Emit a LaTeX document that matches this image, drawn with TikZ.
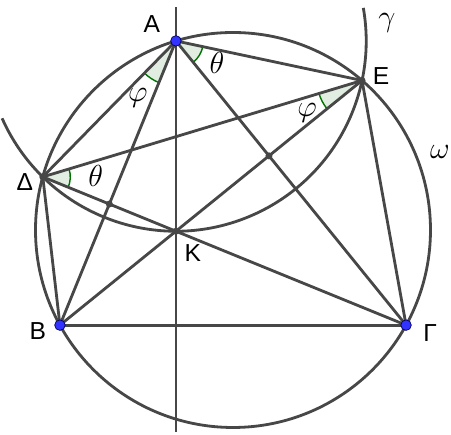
\documentclass[tikz,border=0pt]{standalone}
\usepackage{fontspec}
\setsansfont{Liberation Sans}
\usetikzlibrary{calc,angles}

\begin{document}
\begin{tikzpicture}[
  line/.style={line width=1.6pt, draw=black!72},
  bluept/.style={circle, fill=blue!80!white, draw=blue!35!black, line width=0.4pt, inner sep=0pt, minimum size=6pt},
  greypt/.style={circle, fill=black!72, inner sep=0pt, minimum size=4pt},
  anglemark/.style={draw=green!45!black, fill=green!40!black!12, line width=0.8pt},
  lbl/.style={font=\sffamily\fontsize{14}{16}\selectfont},
  glbl/.style={font=\fontsize{16}{18}\selectfont}
]
\useasboundingbox (-4.66,-4.10) rectangle (4.36,4.60);

% points on omega
\def\romega{3.95}
\coordinate (O) at (0,0);
\coordinate (A) at (106.8:\romega);
\coordinate (B) at (208.8:\romega);
\coordinate (G) at (331.2:\romega);
\coordinate (D) at (164.4:\romega);
\coordinate (E) at (49.2:\romega);
% orthocentre
\coordinate (K) at ($(A)+(B)+(G)$);
\coordinate (P) at (intersection of A--B and D--G);
\coordinate (Q) at (intersection of A--G and B--E);
% ends of the vertical line
\coordinate (vtop) at ($(A)+(0,0.68)$);
\coordinate (vbot) at (A |- 0,-4.04);

% angle marks
\pic[anglemark, angle radius=0.9cm] {angle=D--A--B};
\pic[anglemark, angle radius=0.55cm] {angle=G--A--E};
\pic[anglemark, angle radius=0.9cm] {angle=D--E--B};
\pic[anglemark, angle radius=0.55cm] {angle=G--D--E};

% circles
\draw[line] (O) circle (\romega);
\draw[line] let \p1=($(K)-(A)$), \n1={veclen(\x1,\y1)} in
  ($(A)+(204:\n1)$) arc[start angle=204, end angle=370, radius=\n1];

% segments
\draw[line] (vtop) -- (vbot);
\draw[line] (A) -- (B);
\draw[line] (A) -- (G);
\draw[line] (A) -- (D);
\draw[line] (A) -- (E);
\draw[line] (B) -- (G);
\draw[line] (D) -- (E);
\draw[line] (D) -- (G);
\draw[line] (B) -- (E);
\draw[line] (D) -- (B);
\draw[line] (E) -- (G);

% points
\node[greypt] (Dp) at (D) {};
\node[greypt] (Ep) at (E) {};
\node[greypt] (Kp) at (K) {};
\node[greypt] (Pp) at (P) {};
\node[greypt] (Qp) at (Q) {};
\node[bluept] (Ap) at (A) {};
\node[bluept] (Bp) at (B) {};
\node[bluept] (Gp) at (G) {};

% labels
\node[lbl] at ($(A)+(-0.48,0.34)$) {A};
\node[lbl] at ($(E)+(0.38,0.08)$) {E};
\node[lbl] at ($(D)+(-0.36,-0.10)$) {Δ};
\node[lbl] at ($(K)+(0.34,-0.44)$) {K};
\node[lbl] at ($(B)+(-0.44,-0.12)$) {B};
\node[lbl] at ($(G)+(0.48,-0.16)$) {Γ};
\node[glbl] at ($(A)+(-0.76,-1.14)$) {$\varphi$};
\node[glbl] at ($(A)+(0.82,-0.44)$) {$\theta$};
\node[glbl] at ($(E)+(-1.10,-0.64)$) {$\varphi$};
\node[glbl] at ($(D)+(1.06,0.02)$) {$\theta$};
\node[glbl] at (3.08,4.14) {$\gamma$};
\node[glbl] at (4.14,1.56) {$\omega$};

\end{tikzpicture}
\end{document}
